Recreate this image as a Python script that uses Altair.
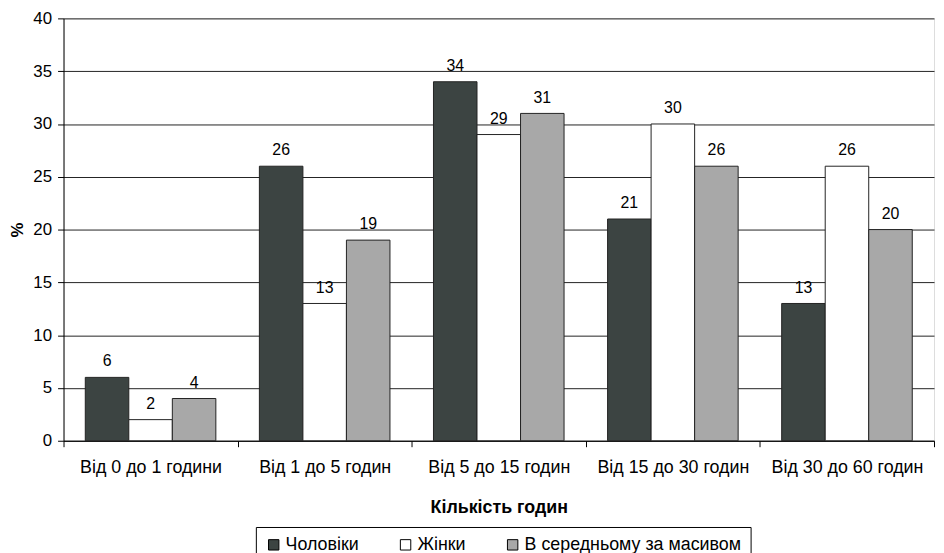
import altair as alt
import pandas as pd

categories = ["Від 0 до 1 години", "Від 1 до 5 годин", "Від 5 до 15 годин",
              "Від 15 до 30 годин", "Від 30 до 60 годин"]
series = ["Чоловіки", "Жінки", "В середньому за масивом"]
men = [6, 26, 34, 21, 13]
women = [2, 13, 29, 30, 26]
average = [4, 19, 31, 26, 20]
colors = ["#3c4442", "#ffffff", "#a8a8a8"]

rows = []
for i, c in enumerate(categories):
    for s, vals in zip(series, [men, women, average]):
        rows.append({"cat": c, "series": s, "value": vals[i]})
df = pd.DataFrame(rows)

FONT = "Liberation Sans"

x = alt.X("cat:N", sort=categories, title="Кількість годин",
          scale=alt.Scale(paddingInner=0, paddingOuter=0),
          axis=alt.Axis(tickBand="extent", labelAngle=0, labelFontSize=18,
                        labelColor="#000", labelFont=FONT, labelPadding=12,
                        tickSize=6, tickColor="#000", domainColor="#000",
                        titleFontSize=18, titleFont=FONT, titleFontWeight="bold",
                        titleColor="#000", titlePadding=22, grid=False,
                        labelLimit=0))
xo = alt.XOffset("series:N", sort=series,
                 scale=alt.Scale(paddingOuter=0.5, paddingInner=0))
y = alt.Y("value:Q", title="%",
          scale=alt.Scale(domain=[0, 40], nice=False),
          axis=alt.Axis(values=list(range(0, 41, 5)), labelFontSize=17,
                        labelFont=FONT, labelColor="#000", labelPadding=6,
                        tickSize=6, tickColor="#000", domainColor="#000",
                        gridColor="#222", gridOpacity=1,
                        titleFontSize=17, titleFont=FONT, titleFontWeight="bold",
                        titleColor="#000", titlePadding=6))

bars = alt.Chart(df).mark_bar(stroke="#222", strokeWidth=1).encode(
    x=x, xOffset=xo, y=y,
    color=alt.Color("series:N", sort=series,
                    scale=alt.Scale(domain=series, range=colors),
                    legend=alt.Legend(title=None, orient="none", direction="horizontal",
                                      legendX=194, legendY=513,
                                      strokeColor="#000", padding=9,
                                      symbolType="square", symbolSize=110,
                                      symbolStrokeColor="#000", symbolStrokeWidth=1,
                                      symbolOpacity=1, labelLimit=0,
                                      labelFontSize=18, labelFont=FONT,
                                      labelColor="#000", labelOffset=3,
                                      columnPadding=38))
)

labels = alt.Chart(df).mark_text(baseline="bottom", dy=-8, fontSize=16,
                                 font=FONT, color="#000").encode(
    x=alt.X("cat:N", sort=categories), xOffset=xo, y="value:Q", text="value:Q"
)

chart = alt.layer(bars, labels).properties(
    width=878, height=426,
    autosize=alt.AutoSizeParams(type="none"),
    padding={"left": 56, "top": 8, "right": 2, "bottom": 140},
).configure_view(stroke="#333", strokeWidth=1).configure(background="#ffffff")

chart.save("out.html", embed_options={"renderer": "svg", "actions": False})
